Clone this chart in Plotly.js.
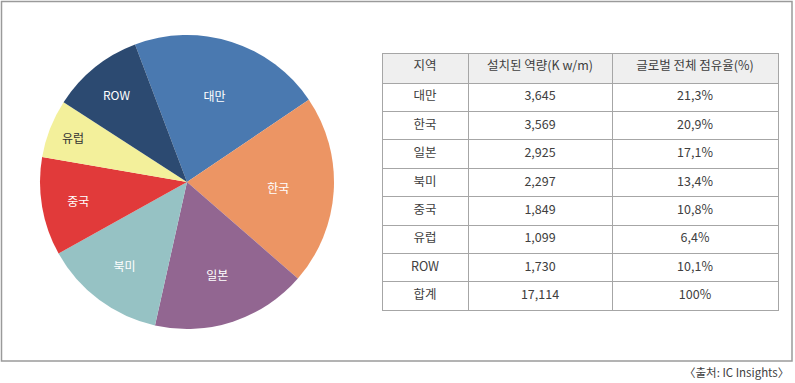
<!DOCTYPE html>
<html>
<head>
<meta charset="utf-8">
<script src="https://cdn.plot.ly/plotly-3.0.1.min.js"></script>
<style>html,body{margin:0;padding:0;background:#fff;}#chart{width:795px;height:383px;}</style>
</head>
<body>
<div id="chart"></div>
<script>
const regions = ['대만', '한국', '일본', '북미', '중국', '유럽', 'ROW'];
const capacity = [3645, 3569, 2925, 2297, 1849, 1099, 1730];
const totalLabel = '합계';
const totalCapacity = 17114;
const shareText = ['21,3%', '20,9%', '17,1%', '13,4%', '10,8%', '6,4%', '10,1%', '100%'];
const headers = ['지역', '설치된 역량(K w/m)', '글로벌 전체 점유율(%)'];
const sliceColors = ['#4a79b0', '#ec9564', '#926691', '#96c2c4', '#e13a3a', '#f3f09b', '#2c4a71'];
const labelColors = ['#ffffff', '#ffffff', '#ffffff', '#ffffff', '#ffffff', '#333333', '#ffffff'];
const source = '〈출처: IC Insights〉';

const W = 795, H = 383;
const font = '"Noto Sans CJK KR", "Noto Sans", sans-serif';

const fmt = n => n.toString().replace(/\B(?=(\d{3})+(?!\d))/g, ',');

const pie = {
  type: 'pie',
  labels: regions,
  values: capacity,
  sort: false,
  direction: 'clockwise',
  rotation: -20.7,
  marker: {colors: sliceColors, line: {width: 0}},
  textinfo: 'label',
  textposition: 'inside',
  insidetextorientation: 'horizontal',
  insidetextfont: {family: font, size: 12, color: labelColors},
  hoverinfo: 'none',
  showlegend: false,
  domain: {x: [40 / W, 334 / W], y: [(H - 329) / H, (H - 35) / H]}
};

const table = {
  type: 'table',
  domain: {x: [382 / W, 778 / W], y: [0, (H - 53) / H]},
  columnwidth: [86, 144, 166],
  header: {
    values: headers,
    align: 'center',
    height: 30,
    fill: {color: '#efefef'},
    line: {color: '#a6a6a6', width: 1},
    font: {family: font, size: 12.5, color: '#404040'}
  },
  cells: {
    values: [
      regions.concat([totalLabel]),
      capacity.concat([totalCapacity]).map(fmt),
      shareText
    ],
    align: 'center',
    height: 28.4,
    fill: {color: '#ffffff'},
    line: {color: '#a6a6a6', width: 1},
    font: {family: font, size: 12.5, color: '#404040'}
  }
};

const layout = {
  width: W, height: H,
  margin: {l: 0, r: 0, t: 0, b: 0},
  paper_bgcolor: '#ffffff',
  plot_bgcolor: '#ffffff',
  font: {family: font},
  shapes: [{
    type: 'rect', xref: 'paper', yref: 'paper',
    x0: 1.5 / W, x1: 792 / W, y0: (H - 361) / H, y1: (H - 1.5) / H,
    line: {color: '#9a9a9a', width: 1.5}, fillcolor: 'rgba(0,0,0,0)', layer: 'below'
  }],
  annotations: [{
    text: source, xref: 'paper', yref: 'paper',
    x: 791 / W, y: (H - 372) / H, xanchor: 'right', yanchor: 'middle',
    showarrow: false, font: {family: font, size: 11.5, color: '#404040'}
  }]
};

Plotly.newPlot('chart', [pie, table], layout, {displayModeBar: false, staticPlot: true});
</script>
</body>
</html>
